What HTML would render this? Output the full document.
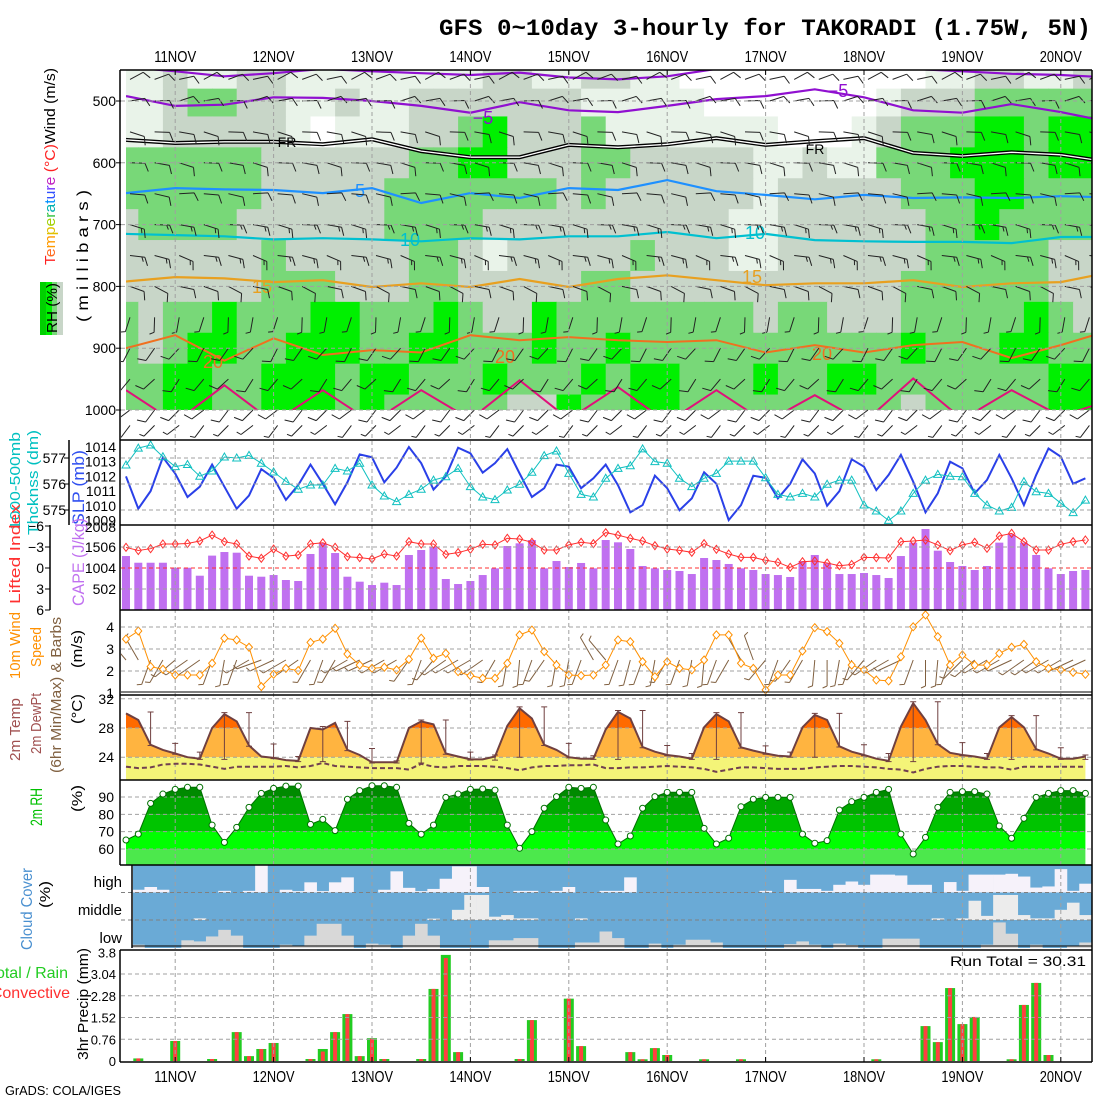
<!DOCTYPE html>
<html><head><meta charset="utf-8">
<style>
html,body{margin:0;padding:0;background:#fff;}
svg{display:block;font-family:"Liberation Sans",sans-serif;}
</style></head>
<body>
<svg id="chart" width="1100" height="1100" viewBox="0 0 1100 1100" xmlns="http://www.w3.org/2000/svg">
<defs>
<clipPath id="clipU"><rect x="126" y="70" width="966" height="340"/></clipPath>
<clipPath id="clipUB"><rect x="121" y="70" width="971" height="370"/></clipPath>
<clipPath id="clipS"><rect x="121" y="440" width="971" height="85"/></clipPath>
<clipPath id="clipC"><rect x="121" y="525" width="971" height="85"/></clipPath>
<clipPath id="clipW"><rect x="121" y="610" width="971" height="85"/></clipPath>
<clipPath id="clipCl"><rect x="133" y="865" width="959" height="83"/></clipPath>
</defs>
<rect x="0" y="0" width="1100" height="1100" fill="#fff"/>
<g id="gUpper" clip-path="url(#clipU)"></g>
<g id="gUpperB" clip-path="url(#clipUB)"></g>
<g id="gSlp" clip-path="url(#clipS)"></g>
<g id="gCape" clip-path="url(#clipC)"></g>
<g id="gWind" clip-path="url(#clipW)"></g>
<g id="gTemp"></g>
<g id="gRh"></g>
<g id="gCloud" clip-path="url(#clipCl)"></g>
<g id="gPrecip"></g>
<g id="gGrid"></g>
<g id="gLines"></g>
<g id="gFrame"></g>
<g id="gText"></g>

<text x="439" y="35" font-family="Liberation Mono, monospace" font-weight="bold" font-size="23" textLength="652" lengthAdjust="spacingAndGlyphs">GFS 0~10day 3-hourly for TAKORADI (1.75W, 5N)</text>
<text x="5" y="1095" font-size="13" textLength="116" lengthAdjust="spacingAndGlyphs">GrADS: COLA/IGES</text>
<text x="950" y="966" font-size="14" textLength="136" lengthAdjust="spacingAndGlyphs">Run Total = 30.31</text>

<g font-size="15">
<text transform="translate(55,265) rotate(-90)" textLength="197" lengthAdjust="spacingAndGlyphs"><tspan fill="#ff2020">T</tspan><tspan fill="#ff6a20">e</tspan><tspan fill="#ff9a00">m</tspan><tspan fill="#e0c000">p</tspan><tspan fill="#a0d000">e</tspan><tspan fill="#30c040">r</tspan><tspan fill="#00b0b0">a</tspan><tspan fill="#0090ff">t</tspan><tspan fill="#3050ff">u</tspan><tspan fill="#7030ff">r</tspan><tspan fill="#c020c0">e</tspan><tspan fill="#ff2020"> (°C)</tspan><tspan fill="#000">Wind (m/s)</tspan></text>
<rect x="40" y="282" width="6" height="53" fill="#00d000"/>
<rect x="46" y="282" width="6" height="53" fill="#00f000"/>
<rect x="52" y="282" width="5" height="53" fill="#78d878"/>
<rect x="57" y="282" width="6" height="53" fill="#c8d6c8"/>
<text transform="translate(57,333) rotate(-90)" textLength="50" lengthAdjust="spacingAndGlyphs">RH (%)</text>
<text transform="translate(88,322) rotate(-90)" font-size="16" textLength="132" lengthAdjust="spacingAndGlyphs">( m i l l i b a r s )</text>
</g>

<g font-size="15">
<text transform="translate(20,530) rotate(-90)" fill="#00c0c0" textLength="98" lengthAdjust="spacingAndGlyphs">1000-500mb</text>
<text transform="translate(38,535) rotate(-90)" fill="#00c0c0" textLength="105" lengthAdjust="spacingAndGlyphs">Thcknss (dm)</text>
<text transform="translate(84,525) rotate(-90)" fill="#3050f0" font-size="17" textLength="75" lengthAdjust="spacingAndGlyphs">SLP (mb)</text>
<text transform="translate(20,604) rotate(-90)" fill="#ff3030" textLength="100" lengthAdjust="spacingAndGlyphs">Lifted Index</text>
<text transform="translate(84,606) rotate(-90)" fill="#c070f0" font-size="17" textLength="88" lengthAdjust="spacingAndGlyphs">CAPE (J/kg)</text>
<text transform="translate(20,679) rotate(-90)" fill="#ff9000" textLength="67" lengthAdjust="spacingAndGlyphs">10m Wind</text>
<text transform="translate(41,667) rotate(-90)" fill="#ff9000" textLength="40" lengthAdjust="spacingAndGlyphs">Speed</text>
<text transform="translate(61,773) rotate(-90)" fill="#806040" textLength="156" lengthAdjust="spacingAndGlyphs">(6hr Min/Max) &amp; Barbs</text>
<text transform="translate(82,668) rotate(-90)" textLength="38" lengthAdjust="spacingAndGlyphs">(m/s)</text>
<text transform="translate(20,761) rotate(-90)" fill="#a05050" textLength="63" lengthAdjust="spacingAndGlyphs">2m Temp</text>
<text transform="translate(41,754) rotate(-90)" fill="#a05050" textLength="61" lengthAdjust="spacingAndGlyphs">2m DewPt</text>
<text transform="translate(82,724) rotate(-90)" textLength="30" lengthAdjust="spacingAndGlyphs">(°C)</text>
<text transform="translate(42,826) rotate(-90)" fill="#00c000" font-size="17" textLength="38" lengthAdjust="spacingAndGlyphs">2m RH</text>
<text transform="translate(82,812) rotate(-90)" textLength="27" lengthAdjust="spacingAndGlyphs">(%)</text>
<text transform="translate(32,950) rotate(-90)" fill="#4a90d0" font-size="16" textLength="82" lengthAdjust="spacingAndGlyphs">Cloud Cover</text>
<text transform="translate(50,908) rotate(-90)" textLength="27" lengthAdjust="spacingAndGlyphs">(%)</text>
<text x="122" y="887" text-anchor="end" font-size="15">high</text>
<text x="122" y="915" text-anchor="end" font-size="15">middle</text>
<text x="122" y="943" text-anchor="end" font-size="15">low</text>
<text transform="translate(88,1060) rotate(-90)" textLength="112" lengthAdjust="spacingAndGlyphs">3hr Precip (mm)</text>
<text x="68" y="978" text-anchor="end" fill="#22cc22" font-size="16">Total / Rain</text>
<text x="70" y="998" text-anchor="end" fill="#ff3030" font-size="16">Convective</text>
</g>
</svg>

<script>
// ---------------- DATA ----------------
const dayLabels = ['11NOV','12NOV','13NOV','14NOV','15NOV','16NOV','17NOV','18NOV','19NOV','20NOV'];
const pressureTicks = [500,600,700,800,900,1000];

// Upper-air RH categories (0 <30, 1 30-50, 2 50-70, 3 70-90, 4 >90), columns every 6h
const rhLevels = [460,500,550,600,650,700,750,800,850,900,950,1000];
const rhRows = [
 "1121122111111112211221100000000001122112",
 "1123322112112222222111110000000122233333",
 "1122222101112234222311111110001233344344",
 "3333332222223344222332222211211333444344",
 "3333332222233333332322222212222233344333",
 "2333322222233332222222222112222223343333",
 "2222223222223321222223222112222223333322",
 "2222223332223322222332222222222233333322",
 "3233433344333432243333333323322233333432",
 "3234433444334433343343333333333343334433",
 "3344334443443334333434433343344333333344",
 "3344334443433333224334433333333323333344"
];

// isotherms (pressure in mb) sampled every 12h (index step 4)
const isoM10 = [445,452,460,455,448,452,455,458,454,462,465,460,448,445,445,445,448,452,456,458,462];
const isoM5  = [492,508,506,494,495,500,508,519,502,515,518,508,497,492,481,494,515,519,505,518,534];
const isoFR  = [563,568,566,566,570,562,581,591,591,571,575,570,560,571,565,560,584,589,583,587,599];
const iso5   = [649,641,643,644,649,641,665,649,657,641,644,628,646,652,659,652,657,656,657,654,656];
const iso10  = [715,717,719,724,722,724,727,722,724,719,719,712,722,715,725,727,728,728,730,720,720];
const iso15  = [792,785,787,793,790,801,795,801,788,801,788,782,790,798,795,795,790,801,795,793,777];
const iso20  = [900,879,920,884,911,903,907,879,887,882,887,890,887,907,895,907,895,890,916,895,871];
const iso25  = [968,1020,960,1020,968,1020,968,1015,952,1015,963,1020,968,1020,976,1020,949,1015,968,1010,984];

// upper winds per level
const barbLevels = [465,500,550,600,650,700,750,800,850,900,950,1000,1025];
const barbDirs   = [70,80,100,100,95,100,105,110,190,215,220,225,225];
const barbKts    = [10,10,10,10,10,15,15,10,5,10,10,10,5];

// SLP (mb) and 1000-500 thickness (dm)
const slp = [1012.0,1009.8,1011.0,1013.3,1012.2,1010.6,1011.3,1012.8,1011.3,1009.8,
 1010.7,1012.5,1011.9,1010.4,1011.4,1012.8,1011.5,1010.1,1011.6,1013.5,
 1013.3,1011.6,1012.6,1014.0,1012.9,1011.1,1012.0,
 1013.95,1013.57,1012.25,1012.9,1013.86,1012.2,1010.6,1011.2,1012.8,1012.66,
 1011.2,1011.87,1012.8,1011.4,1009.56,1010.05,1012.05,1011.2,1009.7,1010.5,
 1012.28,1011.5,1009.03,1010.05,1012.05,1011.9,1010.5,1011.5,1013.16,1012.2,
 1010.0,1011.0,1013.16,1012.66,1011.07,1012.1,1013.46,1011.64,1009.56,1010.85,
 1013.0,1012.55,1010.85,1011.76,1013.46,1011.87,1010.05,1012.1,1013.9,1013.34,
 1011.5,1011.87];
const thick = [576.73,577.38,577.5,577.05,576.67,576.75,576.3,576.5,577.04,577.0,
 577.1,576.8,576.46,576.1,575.8,575.96,575.96,576.6,576.5,576.8,
 575.96,575.54,575.32,575.6,575.8,576.15,
 576.28,576.6,575.9,575.5,575.4,575.77,575.99,576.45,577.09,577.27,
 576.41,575.6,575.5,576.22,576.6,576.7,577.35,576.86,576.8,576.22,
 575.9,576.22,576.41,576.88,576.88,576.88,576.24,575.6,575.5,575.64,
 575.5,575.99,576.15,576.15,575.19,574.96,574.6,574.96,575.64,576.15,
 576.37,576.3,576.28,575.64,575.19,574.96,575.1,576.09,575.7,575.64,
 575.26,574.9,575.38];

// CAPE (J/kg) and Lifted Index
const cape = [1290,1130,1130,1130,1010,1010,820,1300,1386,1370,
 820,796,836,717,693,1339,1594,1362,796,677,
 597,653,597,1315,1434,1513,741,
 621,693,836,996,1530,1594,1673,996,1171,1028,
 1124,996,1673,1618,1458,1052,996,956,932,860,
 1243,1195,1100,996,956,860,836,789,1171,1315,
 1115,860,860,884,836,765,1290,1610,1936,1418,
 1147,1052,956,1052,1610,1810,1610,1315,996,860,
 932,956];
const liftedIndex = [-2.95,-2.5,-2.76,-3.43,-3.43,-3.5,-3.86,-4.7,-3.76,-3.43,
 -1.7,-1.38,-2.7,-1.7,-1.86,-3.43,-3.6,-2.95,-1.62,-1.48,
 -1.29,-2.0,-1.7,-3.76,-3.43,-3.43,-1.95,
 -2.2,-2.67,-3.38,-3.3,-4.24,-4.14,-3.67,-2.57,-2.57,-3.3,
 -3.67,-3.48,-5.05,-4.7,-4.24,-3.86,-3.19,-2.71,-2.52,-2.24,
 -3.48,-2.67,-2.0,-1.52,-1.52,-1.1,-0.81,-0.1,-0.9,-1.0,
 -0.71,-0.33,-0.5,-1.52,-1.48,-1.43,-3.76,-3.86,-4.0,-3.3,
 -2.48,-3.3,-3.67,-2.81,-4.57,-4.95,-3.76,-2.57,-2.57,-3.38,
 -3.76,-4.0];

// 10 m wind speed (m/s) and direction (deg)
const windSpeed = [3.45,3.82,2.2,2.08,1.82,1.82,1.82,2.35,3.49,3.41,
 3.08,1.29,1.85,2.12,2.02,3.3,3.45,3.94,2.77,2.27,
 2.12,2.17,2.05,2.53,3.49,2.58,
 2.8,1.97,1.79,1.67,1.67,2.35,3.64,3.86,2.88,2.27,
 1.82,1.79,1.82,2.27,3.41,3.33,2.42,1.74,2.42,2.12,
 2.05,2.5,3.64,3.64,2.35,2.12,1.14,1.82,1.82,2.91,
 3.97,3.79,3.26,2.27,2.05,1.59,1.55,2.65,4.01,4.55,
 3.56,2.27,2.73,2.27,2.27,2.8,3.08,3.21,2.42,2.12,
 2.05,1.94,1.85];
const windDir = [320,330,200,210,230,235,235,200,190,200,
 240,250,245,240,235,210,200,210,240,245,
 245,240,240,215,200,220,235,240,240,235,
 210,190,185,200,215,190,190,200,330,320,
 200,195,200,190,210,200,190,185,200,210,
 330,340,220,200,215,210,185,180,190,200,
 220,235,240,245,200,180,185,200,225,230,
 240,240,245,235,235,240,240,245,245];

// 2 m temperature and dewpoint (°C)
const temp2m = [30.0,29.1,25.7,25.0,24.5,24.0,23.8,28.0,29.9,28.9,
 25.6,24.1,23.9,23.6,23.5,28.0,27.8,28.7,25.0,24.3,
 23.3,23.3,23.3,28.0,28.9,28.5,
 24.5,24.1,23.7,23.7,24.1,28.3,30.7,29.3,25.7,25.0,
 24.0,23.8,23.8,27.8,30.2,29.3,25.4,24.75,24.3,24.1,
 23.8,28.1,29.9,28.9,25.35,24.9,24.5,24.2,24.1,28.1,
 29.8,29.1,25.5,24.75,24.3,23.8,23.5,28.2,31.4,29.1,
 25.8,24.6,24.3,24.1,23.8,28.1,29.5,28.1,25.1,24.5,
 23.8,23.8,24.1];
const dew2m = [22.7,22.5,22.6,23.0,23.1,23.1,23.0,22.7,22.4,22.7,
 22.7,22.7,22.7,22.8,22.6,22.8,23.2,22.8,22.7,22.6,
 22.5,22.5,22.5,22.3,23.1,22.7,
 22.6,22.8,22.8,22.8,22.7,22.5,22.2,22.6,22.8,22.8,
 22.9,22.9,23.0,22.5,22.5,22.6,22.6,22.7,22.8,22.7,
 22.6,22.4,22.0,22.3,22.6,22.6,22.5,22.4,22.4,22.4,
 22.6,22.7,22.8,22.8,22.7,22.6,22.4,22.3,21.9,22.4,
 22.7,22.8,22.8,22.7,22.6,22.6,22.3,22.7,22.7,22.7,
 22.7,22.7,22.7];

// 2 m RH (%)
const rh2m = [65.2,68.6,86.3,91.7,94.4,95.6,95.6,73.8,63.8,72.5,
 84.0,92.1,95.0,96.3,96.3,74.2,77.1,70.6,88.7,93.7,
 96.5,96.5,95.6,74.8,68.5,73.8,
 89.8,91.7,94.4,94.6,94.0,73.8,60.4,70.0,83.5,90.2,
 95.6,95.0,95.6,76.7,62.9,67.5,83.5,90.2,92.7,92.7,
 92.7,71.9,62.9,66.2,84.4,88.7,89.8,89.8,89.8,68.6,
 63.3,64.8,82.5,87.3,89.8,92.7,94.4,68.6,57.1,66.7,
 84.0,92.7,93.1,93.1,91.7,73.3,66.2,77.7,89.8,92.1,
 93.7,93.7,92.1];

// cloud cover (%)
const cloudHigh = [0,10,20,10,0,0,0,0,6,0,
 6,100,0,10,5,37,5,37,55,0,
 0,10,77,17,5,13,50,95,95,20,
 0,0,6,6,0,6,20,0,0,6,
 6,55,0,0,0,0,0,0,0,0,
 0,0,6,0,46,13,13,6,28,40,
 28,65,65,62,28,28,0,38,6,65,
 65,65,68,58,18,22,85,6,32];
const cloudMid = [0,0,0,0,0,0,6,0,0,0,
 0,0,0,0,0,0,0,0,0,0,
 0,0,0,0,0,5,0,37,91,91,
 12,18,6,6,0,0,0,6,0,0,
 0,0,0,0,0,0,0,0,0,0,
 0,0,0,0,0,0,0,0,0,0,
 0,0,0,0,0,0,6,0,6,70,
 15,91,91,18,6,6,37,63,18];
const cloudLow = [0,12,0,0,0,28,24,42,66,45,
 0,0,0,12,8,45,88,88,45,0,
 16,12,0,45,88,45,0,0,0,0,
 28,28,36,36,0,0,0,20,20,60,
 36,0,0,16,0,12,30,30,20,0,
 0,0,0,0,14,24,12,0,16,11,
 0,0,34,34,34,0,0,0,0,0,
 12,93,52,0,12,0,0,8,20];

// 3 h precipitation (mm)
const precipTotal = [0,0.09,0,0,0.70,0,0,0.07,0,1.01,
 0.17,0.42,0.63,0,0,0.07,0.42,1.01,1.64,0.17,
 0.80,0.07,0,0,0.07,2.52,3.71,0.31,0,0,
 0,0,0.07,1.43,0,0,2.18,0.52,0,0,
 0,0.31,0.06,0.45,0.21,0,0,0.06,0,0,
 0.06,0,0,0,0,0,0,0,0,0,
 0,0.06,0,0,0,1.22,0.66,2.55,1.29,1.54,
 0,0,0.06,1.96,2.73,0.21,0,0,0];
const precipConv = [0,0.09,0,0,0.70,0,0,0.07,0,1.01,
 0.17,0.42,0.63,0,0,0.07,0.33,1.01,1.64,0.17,
 0.78,0.07,0,0,0.07,2.52,3.60,0.31,0,0,
 0,0,0.07,1.43,0,0,2.18,0.52,0,0,
 0,0.31,0.06,0.45,0.21,0,0,0.06,0,0,
 0.06,0,0,0,0,0,0,0,0,0,
 0,0.06,0,0,0,1.22,0.66,2.55,1.29,1.54,
 0,0,0.06,1.96,2.73,0.21,0,0,0];
const precipTicks = ['0','0.76','1.52','2.28','3.04','3.8'];

// ---------------- AXES ----------------
const NS = 'http://www.w3.org/2000/svg';
const X = i => 126 + 12.3 * i;
const yP = p => 101 + (p - 500) * 0.618;
const ySlp = v => 447 + (1014 - v) * 14.7;
const yThk = v => 458 + (577 - v) * 26;
const yCape = v => 610 - v / 502 * 21;
const yLI = v => 568 + v * 7;
const yWs = v => 627 + (4 - v) * 22;
const yT = v => 728 + (28 - v) * 7.3;
const yRh = v => 797 + (90 - v) * 1.733;
const yPr = v => 1061 - v * 28.6;

function mk(tag, attrs, parent) {
  const e = document.createElementNS(NS, tag);
  for (const k in attrs) e.setAttribute(k, attrs[k]);
  parent.appendChild(e);
  return e;
}
const G = id => document.getElementById(id);
const gU = G('gUpper'), gUB = G('gUpperB'), gS = G('gSlp'), gC = G('gCape'), gW = G('gWind'),
      gT = G('gTemp'), gR = G('gRh'), gCl = G('gCloud'), gPr = G('gPrecip'),
      gGrid = G('gGrid'), gL = G('gLines'), gF = G('gFrame'), gTx = G('gText');
const N = temp2m.length;
const pts = (arr, fy) => arr.map((v, i) => X(i).toFixed(1) + ',' + fy(v).toFixed(1)).join(' ');

// ---------------- UPPER RH SHADING ----------------
const rhColors = ['#ffffff', '#e9f3e9', '#c8d6c8', '#78d878', '#00f000'];
for (let r = 0; r < rhLevels.length; r++) {
  const top = r === 0 ? 440 : (rhLevels[r - 1] + rhLevels[r]) / 2;
  const bot = r === rhLevels.length - 1 ? 1000 : (rhLevels[r] + rhLevels[r + 1]) / 2;
  for (let c = 0; c < 40; c++) {
    const cat = +rhRows[r][c];
    const cell = mk('rect', {x: X(2 * c) - 12.3, y: yP(top), width: 25.2, height: yP(bot) - yP(top) + 0.6, fill: rhColors[cat]}, gU);
    
    
  }
}

// ---------------- GRIDS ----------------
function dashH(y, x1, x2, name, color) {
  const l = mk('line', {x1: x1, x2: x2, y1: y, y2: y, stroke: color || '#a0a0a0', 'stroke-width': 1, 'stroke-dasharray': '4,3'}, gGrid);
  
  
}
for (let k = 0; k < dayLabels.length; k++) {
  const x = X(4 + 8 * k);
  const l = mk('line', {x1: x, x2: x, y1: 70, y2: 1062, stroke: '#a0a0a0', 'stroke-width': 1, 'stroke-dasharray': '4,3'}, gGrid);
  
  
  const t1 = mk('text', {x: x, y: 62, 'text-anchor': 'middle', 'font-size': 16, textLength: 42, lengthAdjust: 'spacingAndGlyphs'}, gTx);
  t1.textContent = dayLabels[k];
  
  
  const t2 = mk('text', {x: x, y: 1082, 'text-anchor': 'middle', 'font-size': 16, textLength: 42, lengthAdjust: 'spacingAndGlyphs'}, gTx);
  t2.textContent = dayLabels[k];
  
  
}
pressureTicks.forEach(p => {
  dashH(yP(p), 121, 1092, 'pressure-gridline');
  const t = mk('text', {x: 116, y: yP(p) + 5, 'text-anchor': 'end', 'font-size': 14}, gTx);
  t.textContent = p;
  
  
});
[577, 576, 575].forEach(v => {
  dashH(yThk(v), 121, 1092, 'thickness-gridline');
  const t = mk('text', {x: 66, y: yThk(v) + 5, 'text-anchor': 'end', 'font-size': 14}, gTx);
  t.textContent = v;
  
  
});
[1014, 1013, 1012, 1011, 1010, 1009].forEach(v => {
  const t = mk('text', {x: 116, y: ySlp(v) + 5, 'text-anchor': 'end', 'font-size': 14}, gTx);
  t.textContent = v;
  
  
});
[[502, 589], [1004, 568], [1506, 547], [2008, 527]].forEach(a => {
  const t = mk('text', {x: 116, y: a[1] + 5, 'text-anchor': 'end', 'font-size': 14}, gTx);
  t.textContent = a[0];
  
  
});
dashH(547, 121, 1092, 'cape-gridline');
dashH(589, 121, 1092, 'cape-gridline');
[-6, -3, 0, 3, 6].forEach(v => {
  const t = mk('text', {x: 44, y: yLI(v) + 5, 'text-anchor': 'end', 'font-size': 14}, gTx);
  t.textContent = v < 0 ? '\u2212' + (-v) : v;
  
  
});
[4, 3, 2, 1].forEach(v => {
  if (v > 1) dashH(yWs(v), 121, 1092, 'wind-gridline');
  const t = mk('text', {x: 114, y: yWs(v) + 5, 'text-anchor': 'end', 'font-size': 14}, gTx);
  t.textContent = v;
  
  
});
[32, 28, 24].forEach(v => {
  const t = mk('text', {x: 114, y: yT(v) + 5, 'text-anchor': 'end', 'font-size': 14}, gTx);
  t.textContent = v;
  
  
});
[90, 80, 70, 60].forEach(v => {
  const t = mk('text', {x: 114, y: yRh(v) + 5, 'text-anchor': 'end', 'font-size': 14}, gTx);
  t.textContent = v;
  
  
});
precipTicks.forEach(s => {
  const v = parseFloat(s);
  if (v > 0 && v < 3.8) dashH(yPr(v), 121, 1092, 'precip-gridline');
  const t = mk('text', {x: 116, y: yPr(v) + 5, 'text-anchor': 'end', 'font-size': 13}, gTx);
  t.textContent = s;
  
  
});

// ---------------- UPPER CONTOURS ----------------
function iso(arr, color, w, name, dbl) {
  const p = arr.map((v, k) => X(4 * k).toFixed(1) + ',' + yP(v).toFixed(1)).join(' ');
  if (dbl) {
    const o = mk('polyline', {points: p, fill: 'none', stroke: '#000', 'stroke-width': 4}, gU);
    
    
    const i2 = mk('polyline', {points: p, fill: 'none', stroke: '#fff', 'stroke-width': 1.3}, gU);
    
    
  } else {
    const l = mk('polyline', {points: p, fill: 'none', stroke: color, 'stroke-width': w}, gU);
    
    
  }
}
iso(isoM10, '#9010d0', 2.2, 'isotherm-minus10');
iso(isoM5, '#9010d0', 2.2, 'isotherm-minus5');
iso(isoFR, '#000', 2, 'freezing-level', true);
iso(iso5, '#1e90ff', 2.2, 'isotherm-5');
iso(iso10, '#00c0d0', 2.2, 'isotherm-10');
iso(iso15, '#e8a020', 2.2, 'isotherm-15');
iso(iso20, '#f07020', 2, 'isotherm-20');
iso(iso25, '#e0107a', 2, 'isotherm-25');
[['\u22125', 483, 124, '#9010d0'], ['\u22125', 838, 97, '#9010d0'], ['FR', 287, 147, '#000'], ['FR', 815, 154, '#000'],
 ['5', 360, 197, '#1e90ff'], ['10', 410, 246, '#00c0d0'], ['10', 755, 239, '#00c0d0'],
 ['15', 262, 293, '#e8a020'], ['15', 752, 283, '#e8a020'], ['20', 213, 368, '#f07020'], ['20', 505, 363, '#f07020'], ['20', 822, 360, '#f07020']]
 .forEach(a => {
  const bg = mk('rect', {x: a[1] - 9, y: a[2] - 14, width: 20, height: 17, fill: 'none'}, gUB);
  
  
  const t = mk('text', {x: a[1], y: a[2], fill: a[3], 'font-size': a[0] === 'FR' ? 14 : 18, 'text-anchor': 'middle'}, gUB);
  t.textContent = a[0];
  
  
});

// ---------------- BARBS ----------------
function barb(x, y, dir, kt, L, color, parent, name) {
  const a = dir * Math.PI / 180;
  const ux = Math.sin(a), uy = -Math.cos(a);
  const ex = x + ux * L, ey = y + uy * L;
  const px = -uy, py = ux;
  let d = 'M' + x.toFixed(1) + ' ' + y.toFixed(1) + 'L' + ex.toFixed(1) + ' ' + ey.toFixed(1);
  let pos = 0, rem = kt;
  while (rem >= 10) {
    const bx = ex - ux * pos, by = ey - uy * pos;
    d += 'M' + bx.toFixed(1) + ' ' + by.toFixed(1) + 'l' + ((ux * 0.4 + px * 0.9) * 9).toFixed(1) + ' ' + ((uy * 0.4 + py * 0.9) * 9).toFixed(1);
    rem -= 10; pos += 3;
  }
  if (rem >= 5) {
    const bx = ex - ux * pos, by = ey - uy * pos;
    d += 'M' + bx.toFixed(1) + ' ' + by.toFixed(1) + 'l' + ((ux * 0.4 + px * 0.9) * 5).toFixed(1) + ' ' + ((uy * 0.4 + py * 0.9) * 5).toFixed(1);
  }
  const p = mk('path', {d: d, fill: 'none', stroke: color, 'stroke-width': 1}, parent);
  
  
}
for (let l = 0; l < barbLevels.length; l++) {
  for (let c = 0; c < 40; c++) {
    barb(X(2 * c) + 4, yP(barbLevels[l]), barbDirs[l] + ((c * 37 + l * 13) % 3 - 1) * 8, barbKts[l], 15, '#222', gUB, 'upper-wind-barb');
  }
}
for (let i = 0; i < N; i++) {
  barb(X(i), 660, windDir[i], 5, 26, '#806040', gW, 'wind10-barb');
}

// ---------------- SLP / THICKNESS ----------------
const slpLine = mk('polyline', {points: pts(slp, ySlp), fill: 'none', stroke: '#2a40e8', 'stroke-width': 2}, gS);


const thkLine = mk('polyline', {points: pts(thick, yThk), fill: 'none', stroke: '#10c0c0', 'stroke-width': 1}, gS);


thick.forEach((v, i) => {
  const x = X(i), y = yThk(v);
  const m = mk('polygon', {points: `${x},${y - 4} ${x - 4},${y + 3} ${x + 4},${y + 3}`, fill: 'none', stroke: '#10c0c0', 'stroke-width': 1}, gS);
  
  
});

// ---------------- CAPE / LI ----------------
cape.forEach((v, i) => {
  const b = mk('rect', {x: X(i) - 4, y: yCape(v), width: 8, height: 610 - yCape(v), fill: '#c070f0'}, gC);
  
  
});
const liZero = mk('line', {x1: 121, x2: 1092, y1: yLI(0), y2: yLI(0), stroke: '#ff3030', 'stroke-width': 1, 'stroke-dasharray': '4,3'}, gC);


const liLine = mk('polyline', {points: pts(liftedIndex, yLI), fill: 'none', stroke: '#ff3030', 'stroke-width': 1}, gC);


liftedIndex.forEach((v, i) => {
  const x = X(i), y = yLI(v);
  const m = mk('polygon', {points: `${x},${y - 4} ${x + 3},${y} ${x},${y + 4} ${x - 3},${y}`, fill: 'none', stroke: '#ff3030', 'stroke-width': 1}, gC);
  
  
});

// ---------------- WIND SPEED ----------------
const wsLine = mk('polyline', {points: pts(windSpeed, yWs), fill: 'none', stroke: '#ff9000', 'stroke-width': 1}, gW);


windSpeed.forEach((v, i) => {
  const x = X(i), y = yWs(v);
  const m = mk('polygon', {points: `${x},${y - 4} ${x + 3.5},${y} ${x},${y + 4} ${x - 3.5},${y}`, fill: '#fff', stroke: '#ff9000', 'stroke-width': 1}, gW);
  
  
});

// ---------------- TEMPERATURE ----------------
const tPoly = 'M' + X(0) + ' 780 ' + temp2m.map((v, i) => 'L' + X(i).toFixed(1) + ' ' + yT(v).toFixed(1)).join(' ') + ' L' + X(N - 1) + ' 780 Z';
const defs = document.querySelector('defs');
const cpT = mk('clipPath', {id: 'clipTemp'}, defs);
mk('path', {d: tPoly}, cpT);
const gTB = mk('g', {'clip-path': 'url(#clipTemp)'}, gT);


[[695, yT(28), '#ff6a00'], [yT(28), yT(24), '#ffb440'], [yT(24), 780, '#f4f478']].forEach(b => {
  const r = mk('rect', {x: 120, y: b[0], width: 980, height: b[1] - b[0], fill: b[2]}, gTB);
  
  
});
dashH(yT(32), 121, 1092, 'temp-gridline');
dashH(yT(28), 121, 1092, 'temp-gridline');
dashH(yT(24), 121, 1092, 'temp-gridline');
const tLine = mk('polyline', {points: pts(temp2m, yT), fill: 'none', stroke: '#704040', 'stroke-width': 2}, gL);


const dLine = mk('polyline', {points: pts(dew2m, yT), fill: 'none', stroke: '#704050', 'stroke-width': 2, 'stroke-dasharray': '5,3'}, gL);


for (let i = 2; i < N; i += 2) {
  const w = temp2m.slice(i - 2, i + 1);
  const hi = Math.max(...w) + 0.2, lo = Math.min(...w) - 0.1;
  const e = mk('path', {d: `M${X(i)} ${yT(hi)}V${yT(lo)}M${X(i) - 3} ${yT(hi)}h6M${X(i) - 3} ${yT(lo)}h6`, stroke: '#704040', 'stroke-width': 1, fill: 'none'}, gL);
  
  
}

// ---------------- RH ----------------
const rPoly = 'M' + X(0) + ' 865 ' + rh2m.map((v, i) => 'L' + X(i).toFixed(1) + ' ' + yRh(v).toFixed(1)).join(' ') + ' L' + X(N - 1) + ' 865 Z';
const cpR = mk('clipPath', {id: 'clipRh'}, defs);
mk('path', {d: rPoly}, cpR);
const gRB = mk('g', {'clip-path': 'url(#clipRh)'}, gR);


[[780, yRh(90), '#008a00'], [yRh(90), yRh(80), '#00a800'], [yRh(80), yRh(70), '#00c400'], [yRh(70), yRh(60), '#00ff00'], [yRh(60), 865, '#4ce84c']].forEach(b => {
  const r = mk('rect', {x: 120, y: b[0], width: 980, height: b[1] - b[0], fill: b[2]}, gRB);
  
  
});
[90, 80, 70, 60].forEach(v => dashH(yRh(v), 121, 1092, 'rh-gridline'));
const rLine = mk('polyline', {points: pts(rh2m, yRh), fill: 'none', stroke: '#007000', 'stroke-width': 1}, gL);


rh2m.forEach((v, i) => {
  const c = mk('circle', {cx: X(i), cy: yRh(v), r: 3, fill: '#fff', stroke: '#007000', 'stroke-width': 1}, gL);
  
  
});

// ---------------- CLOUD ----------------
const cbg = mk('rect', {x: 133, y: 865, width: 959, height: 83, fill: '#6aaad6'}, gCl);


[[cloudHigh, 892.5, '#f6f2fa', 'cloud-high-bar'], [cloudMid, 920, '#ececec', 'cloud-middle-bar'], [cloudLow, 948, '#d8d8d8', 'cloud-low-bar']].forEach(row => {
  row[0].forEach((v, i) => {
    if (v <= 0) return;
    const h = v / 100 * 27.5;
    const b = mk('rect', {x: X(i) - 6.15, y: row[1] - h, width: 12.6, height: h, fill: row[2]}, gCl);
    
    
  });
});
dashH(892.5, 121, 1092, 'cloud-gridline', '#808080');
dashH(920, 121, 1092, 'cloud-gridline', '#808080');

// ---------------- PRECIP ----------------
precipTotal.forEach((v, i) => {
  if (v <= 0) return;
  const b = mk('rect', {x: X(i) - 5, y: yPr(v), width: 10, height: 1061 - yPr(v), fill: '#22cc22'}, gPr);
  
  
});
precipConv.forEach((v, i) => {
  if (v <= 0) return;
  const b = mk('rect', {x: X(i) - 2, y: yPr(v), width: 4, height: 1061 - yPr(v), fill: '#ff4040'}, gPr);
  
  
});

// ---------------- FRAMES ----------------
function fl(x1, y1, x2, y2, name, w) {
  const l = mk('line', {x1: x1, y1: y1, x2: x2, y2: y2, stroke: '#000', 'stroke-width': w || 1.5}, gF);
  
  
}
fl(120, 70, 1092, 70, 'upper-frame-top');
fl(120, 70, 120, 865, 'left-axis');
fl(1092, 70, 1092, 1062, 'right-frame');
[440, 525, 610, 695, 780, 865, 1062].forEach(y => fl(120, y, 1092, y, 'panel-separator'));
fl(121, 692, 1092, 692, 'panel-separator-double', 1);
fl(132, 865, 132, 948, 'cloud-left-axis');
fl(132, 946, 1092, 946, 'cloud-bottom', 1);
fl(120, 950, 1092, 950, 'precip-top');
fl(120, 950, 120, 1062, 'precip-left-axis');
fl(69, 440, 69, 525, 'thickness-axis');
fl(50, 525, 50, 610, 'li-axis');
[577, 576, 575].forEach(v => fl(64, yThk(v), 69, yThk(v), 'thickness-tick', 1));
[-6, -3, 0, 3, 6].forEach(v => fl(45, yLI(v), 50, yLI(v), 'li-tick', 1));
pressureTicks.forEach(p => fl(116, yP(p), 121, yP(p), 'pressure-tick', 1));
for (let k = 0; k < dayLabels.length; k++) {
  fl(X(4 + 8 * k), 70, X(4 + 8 * k), 75, 'top-day-tick', 1);
  fl(X(4 + 8 * k), 1057, X(4 + 8 * k), 1062, 'bottom-day-tick', 1);
}
</script>
</body></html>
